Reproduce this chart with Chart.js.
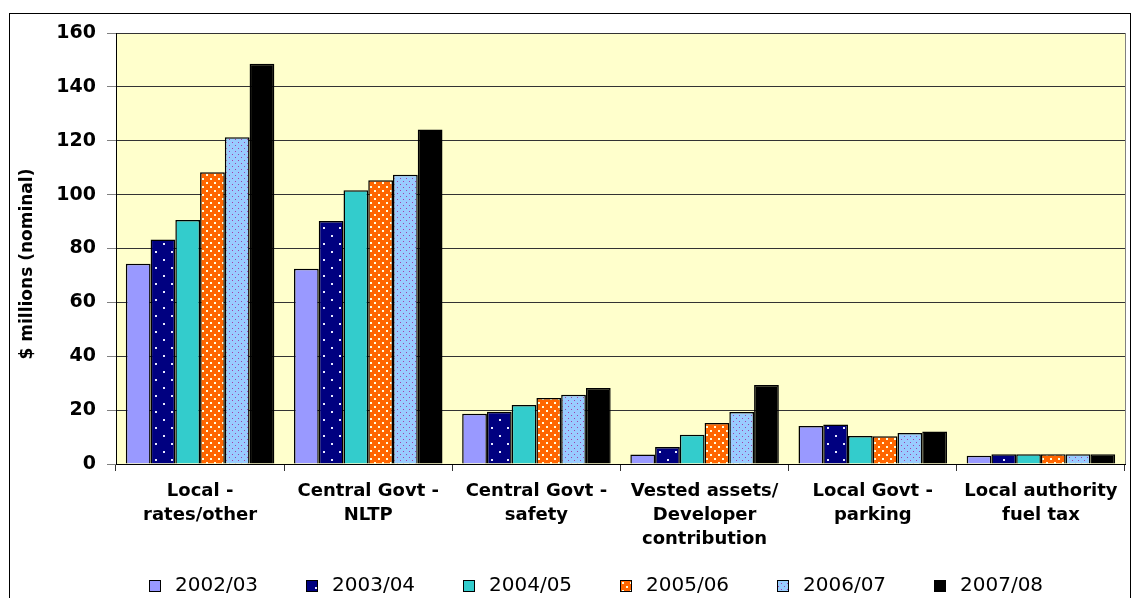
<!DOCTYPE html>
<html>
<head>
<meta charset="utf-8">
<title>Transport revenue by source</title>
<script src="https://cdn.jsdelivr.net/npm/chart.js@4.4.1/dist/chart.umd.min.js"></script>
<style>
  html, body { margin: 0; padding: 0; background: #fff; }
  canvas { display: block; }
</style>
</head>
<body>
<canvas id="chart1" width="1131" height="598"></canvas>
<script>
// funding sources, one group of bars each
var sources = [
  ['Local -', 'rates/other'],
  ['Central Govt -', 'NLTP'],
  ['Central Govt -', 'safety'],
  ['Vested assets/', 'Developer', 'contribution'],
  ['Local Govt -', 'parking'],
  ['Local authority', 'fuel tax']
];
var years = ['2002/03', '2003/04', '2004/05', '2005/06', '2006/07', '2007/08'];

// $ millions (nominal) per source
var y2002 = [74.3, 72.5, 18.7, 3.5, 14.1, 3.1];
var y2003 = [83.3, 90.2, 19.4, 6.3, 14.7, 3.6];
var y2004 = [90.6, 101.6, 21.9, 10.9, 10.4, 3.6];
var y2005 = [108.3, 105.3, 24.5, 15.2, 10.3, 3.6];
var y2006 = [121.3, 107.4, 25.7, 19.3, 11.5, 3.6];
var y2007 = [148.6, 124.2, 28.2, 29.3, 12.1, 3.6];

var yTicks = [0, 20, 40, 60, 80, 100, 120, 140, 160];

// small dotted fills
function dots(bg, fg, size, pts, r) {
  var c = document.createElement('canvas');
  c.width = size; c.height = size;
  var g = c.getContext('2d');
  g.fillStyle = bg;
  g.fillRect(0, 0, size, size);
  g.fillStyle = fg;
  pts.forEach(function (p) { g.fillRect(p[0], p[1], r, r); });
  return g.createPattern(c, 'repeat');
}

var ctx = document.getElementById('chart1').getContext('2d');
var fills = [
  '#9999FF',
  dots('#000080', '#E8E8FF', 16, [[3, 3], [11, 11]], 2),
  '#33CCCC',
  dots('#FF6600', '#FFFFE0', 8, [[2, 2], [6, 6]], 2),
  dots('#99CCFF', '#A040A8', 6, [[1, 1], [4, 4]], 1),
  '#000000'
];
var series = [y2002, y2003, y2004, y2005, y2006, y2007];

var plotBox = {
  id: 'plotBox',
  beforeDraw: function (chart) {
    var a = chart.chartArea, c = chart.ctx;
    c.save();
    c.fillStyle = '#FFFFCC';
    c.fillRect(a.left, a.top, a.right - a.left, a.bottom - a.top);
    c.strokeStyle = '#808080';
    c.lineWidth = 1;
    c.strokeRect(a.left + 0.5, a.top + 0.5, a.right - a.left, a.bottom - a.top);
    // outer frame
    c.strokeStyle = '#000';
    c.strokeRect(9.5, 13.5, 1121, 600);
    c.restore();
  },
  afterDraw: function (chart) {
    var c = chart.ctx;
    c.save();
    // axis title
    c.translate(28, 264);
    c.rotate(-Math.PI / 2);
    c.font = 'bold 17px "DejaVu Sans"';
    c.fillStyle = '#000';
    c.textAlign = 'center';
    c.textBaseline = 'middle';
    c.fillText('$ millions (nominal)', 0, 0);
    c.restore();

    // legend row
    c.save();
    c.font = '20px "DejaVu Sans"';
    c.textBaseline = 'middle';
    chart.data.datasets.forEach(function (ds, i) {
      var x = 149 + i * 157;
      c.fillStyle = ds.backgroundColor;
      c.fillRect(x, 580, 12, 12);
      c.strokeStyle = '#000';
      c.lineWidth = 1;
      c.strokeRect(x + 0.5, 580.5, 11, 11);
      c.fillStyle = '#000';
      c.fillText(ds.label, x + 26, 586);
    });
    c.restore();
  }
};

var chart1 = new Chart(ctx, {
  type: 'bar',
  data: {
    labels: sources,
    datasets: years.map(function (y, i) {
      return {
        label: y,
        data: series[i],
        backgroundColor: fills[i],
        borderColor: '#000',
        borderWidth: 1.5,
        categoryPercentage: 0.883,
        barPercentage: 1
      };
    })
  },
  options: {
    responsive: false,
    animation: false,
    layout: { padding: { left: 0, top: 33, right: 6, bottom: 0 } },
    plugins: {
      legend: { display: false },
      tooltip: { enabled: false }
    },
    scales: {
      x: {
        afterFit: function (s) { s.height = 134; },
        grid: {
          drawOnChartArea: false,
          tickLength: 7,
          color: '#333'
        },
        border: { color: '#000', width: 1 },
        ticks: {
          color: '#000',
          padding: 8,
          maxRotation: 0,
          autoSkip: false,
          font: { family: 'DejaVu Sans', size: 18, weight: 'bold', lineHeight: '24px' }
        }
      },
      y: {
        min: 0,
        max: 160,
        afterFit: function (s) { s.width = 116; },
        afterBuildTicks: function (s) {
          s.ticks = yTicks.map(function (v) { return { value: v }; });
        },
        grid: {
          color: '#333',
          tickColor: '#808080',
          tickLength: 9
        },
        border: { color: '#000', width: 1 },
        ticks: {
          color: '#000',
          padding: 11,
          font: { family: 'DejaVu Sans', size: 19, weight: 'bold' }
        }
      }
    }
  },
  plugins: [plotBox]
});
</script>
</body>
</html>
